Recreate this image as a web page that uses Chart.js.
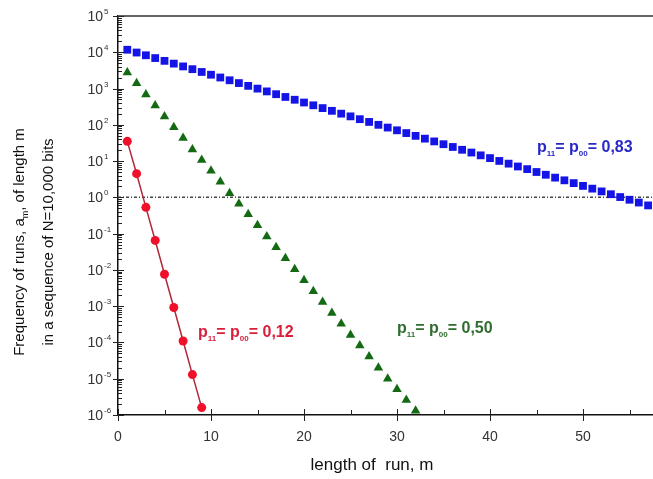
<!DOCTYPE html>
<html lang="en">
<head>
  <meta charset="UTF-8">
  <title>Runs frequency</title>
  <style>
    * { box-sizing: border-box; margin: 0; padding: 0; }
    html, body { width: 653px; height: 479px; overflow: hidden; background: #fff; }
    canvas { display: block; }
  </style>
</head>
<body>
  <canvas id="chart" width="700" height="479"></canvas>

  <script src="https://cdn.jsdelivr.net/npm/chart.js@4/dist/chart.umd.min.js"></script>
  <script>
    // run lengths m
    const lengths = [1, 2, 3, 4, 5, 6, 7, 8, 9, 10, 11, 12, 13, 14, 15, 16, 17, 18, 19, 20,
      21, 22, 23, 24, 25, 26, 27, 28, 29, 30, 31, 32, 33, 34, 35, 36, 37, 38, 39, 40,
      41, 42, 43, 44, 45, 46, 47, 48, 49, 50, 51, 52, 53, 54, 55, 56, 57];

    // p11 = p00 = 0,12
    const runsP012 = [35, 4.5, 0.53, 0.065, 0.0076, 0.00092, 0.00011, 0.000013, 0.0000016];

    // p11 = p00 = 0,50
    const runsP050 = [2750, 1400, 690, 340, 170, 86, 43, 21, 10.7, 5.4,
      2.7, 1.3, 0.67, 0.34, 0.17, 0.084, 0.042, 0.021, 0.0105, 0.0052,
      0.0026, 0.0013, 0.00065, 0.00033, 0.00016, 0.000082, 0.000041, 0.00002, 0.00001, 0.0000051,
      0.0000026, 0.0000013];

    // p11 = p00 = 0,83
    const runsP083 = [11750, 9840, 8260, 6920, 5800, 4865, 4075, 3420, 2865, 2405,
      2015, 1690, 1415, 1186, 995, 834, 699, 586, 491, 412,
      345, 289, 243, 203, 171, 143, 120, 100, 84, 70.6,
      59.2, 49.6, 41.6, 34.9, 29.2, 24.5, 20.5, 17.2, 14.4, 12.1,
      10.1, 8.5, 7.1, 6.0, 5.0, 4.2, 3.5, 2.95, 2.47, 2.07,
      1.74, 1.46, 1.22, 1.02, 0.86, 0.72, 0.60];

    const xTicks = [0, 10, 20, 30, 40, 50, 60];
    const yExponents = [-6, -5, -4, -3, -2, -1, 0, 1, 2, 3, 4, 5];
    const refLevel = [{ x: 0, y: 1 }, { x: 60, y: 1 }];

    const pts = vals => vals.map((v, i) => ({ x: lengths[i], y: v }));

    const FONT = '"Liberation Sans", Arial, sans-serif';

    function drawParts(ctx, parts, x, y) {
      let cx = x;
      parts.forEach(p => {
        ctx.font = p.font;
        ctx.fillText(p.t, cx, y + (p.dy || 0));
        cx += ctx.measureText(p.t).width;
      });
      return cx;
    }

    function partsWidth(ctx, parts) {
      let w = 0;
      parts.forEach(p => { ctx.font = p.font; w += ctx.measureText(p.t).width; });
      return w;
    }

    function pLabel(value) {
      const big = 'bold 16px ' + FONT;
      const sub = 'bold 8px ' + FONT;
      return [
        { t: 'p', font: big }, { t: '11', font: sub, dy: 4 },
        { t: '= p', font: big }, { t: '00', font: sub, dy: 4 },
        { t: '= ' + value, font: big }
      ];
    }

    const decor = {
      id: 'decor',
      afterDraw(chart) {
        const { ctx, chartArea: a, scales: { x, y } } = chart;
        ctx.save();

        // top frame
        ctx.strokeStyle = '#666';
        ctx.lineWidth = 2;
        ctx.beginPath();
        ctx.moveTo(a.left, a.top);
        ctx.lineTo(a.right, a.top);
        ctx.stroke();

        // y ticks + labels
        ctx.strokeStyle = '#222';
        ctx.lineWidth = 1;
        ctx.fillStyle = '#333';
        yExponents.forEach(e => {
          const py = Math.round(y.getPixelForValue(Math.pow(10, e))) + 0.5;
          ctx.beginPath();
          ctx.moveTo(a.left - 5, py);
          ctx.lineTo(a.left + 6, py);
          ctx.stroke();
          if (e < 5) {
            for (let k = 2; k <= 9; k++) {
              const my = Math.round(y.getPixelForValue(k * Math.pow(10, e))) + 0.5;
              ctx.beginPath();
              ctx.moveTo(a.left, my);
              ctx.lineTo(a.left + 4, my);
              ctx.stroke();
            }
          }
          ctx.font = '14px ' + FONT;
          ctx.textAlign = 'right';
          ctx.textBaseline = 'middle';
          ctx.fillText('10', a.left - 15, py + 1);
          ctx.font = '8px ' + FONT;
          ctx.textAlign = 'left';
          ctx.fillText(e < 0 ? '-' + (-e) : String(e), a.left - 14, py - 5);
        });

        // x ticks + labels
        for (let v = 0; v <= 60; v += 5) {
          const px = Math.round(x.getPixelForValue(v)) + 0.5;
          ctx.beginPath();
          if (v % 10 === 0) {
            ctx.moveTo(px, a.bottom - 6);
            ctx.lineTo(px, a.bottom + 6);
          } else {
            ctx.moveTo(px, a.bottom - 5);
            ctx.lineTo(px, a.bottom);
          }
          ctx.stroke();
        }
        ctx.font = '14px ' + FONT;
        ctx.textAlign = 'center';
        ctx.textBaseline = 'middle';
        xTicks.forEach(v => ctx.fillText(String(v), x.getPixelForValue(v), a.bottom + 22));

        // x title
        ctx.fillStyle = '#111';
        ctx.font = '17px ' + FONT;
        ctx.textBaseline = 'alphabetic';
        ctx.fillText('length of  run, m', 372, 470);

        // y title
        ctx.save();
        ctx.translate(0, 242);
        ctx.rotate(-Math.PI / 2);
        ctx.textAlign = 'left';
        const t1 = [
          { t: 'Frequency of runs, a', font: '15px ' + FONT },
          { t: 'm', font: '9px ' + FONT, dy: 4 },
          { t: ', of length m', font: '15px ' + FONT }
        ];
        const t2 = [{ t: 'in a sequence of N=10,000 bits', font: '15px ' + FONT }];
        drawParts(ctx, t1, -partsWidth(ctx, t1) / 2, 24);
        drawParts(ctx, t2, -partsWidth(ctx, t2) / 2, 53);
        ctx.restore();

        // series labels
        ctx.textAlign = 'left';
        ctx.fillStyle = '#2828c8';
        drawParts(ctx, pLabel('0,83'), 537, 152);
        ctx.fillStyle = '#2f6e2f';
        drawParts(ctx, pLabel('0,50'), 397, 333);
        ctx.fillStyle = '#d8203a';
        drawParts(ctx, pLabel('0,12'), 198, 337);

        ctx.restore();
      }
    };

    new Chart(document.getElementById('chart'), {
      type: 'scatter',
      data: {
        datasets: [
          {
            label: 'N = 1',
            data: refLevel,
            showLine: true,
            borderColor: '#444',
            borderWidth: 1.5,
            borderDash: [3, 2, 1, 2],
            pointRadius: 0,
            order: 4
          },
          {
            label: 'p = 0,83',
            data: pts(runsP083),
            pointStyle: 'rect',
            pointRadius: 5.5,
            backgroundColor: '#1414e6',
            borderColor: '#1414e6',
            borderWidth: 0,
            order: 3
          },
          {
            label: 'p = 0,50',
            data: pts(runsP050),
            pointStyle: 'triangle',
            pointRadius: 5.5,
            backgroundColor: '#136a13',
            borderColor: '#136a13',
            borderWidth: 0,
            order: 2
          },
          {
            label: 'p = 0,12',
            data: pts(runsP012),
            showLine: true,
            borderColor: '#b02838',
            borderWidth: 1.5,
            pointStyle: 'circle',
            pointRadius: 4.5,
            pointBackgroundColor: '#f0102a',
            pointBorderColor: '#f0102a',
            pointBorderWidth: 0,
            order: 1
          }
        ]
      },
      options: {
        responsive: false,
        animation: false,
        events: [],
        layout: { padding: { top: 16, right: 24, left: 0, bottom: 0 } },
        plugins: { legend: { display: false }, tooltip: { enabled: false } },
        scales: {
          x: {
            type: 'linear',
            min: 0,
            max: 60,
            grid: { display: false },
            ticks: { display: false },
            border: { display: true, color: '#111', width: 1.5 },
            afterFit: s => { s.height = 64; }
          },
          y: {
            type: 'logarithmic',
            min: 1e-6,
            max: 1e5,
            grid: { display: false },
            ticks: { display: false },
            border: { display: true, color: '#111', width: 1.5 },
            afterFit: s => { s.width = 118; }
          }
        }
      },
      plugins: [decor]
    });
  </script>
</body>
</html>
